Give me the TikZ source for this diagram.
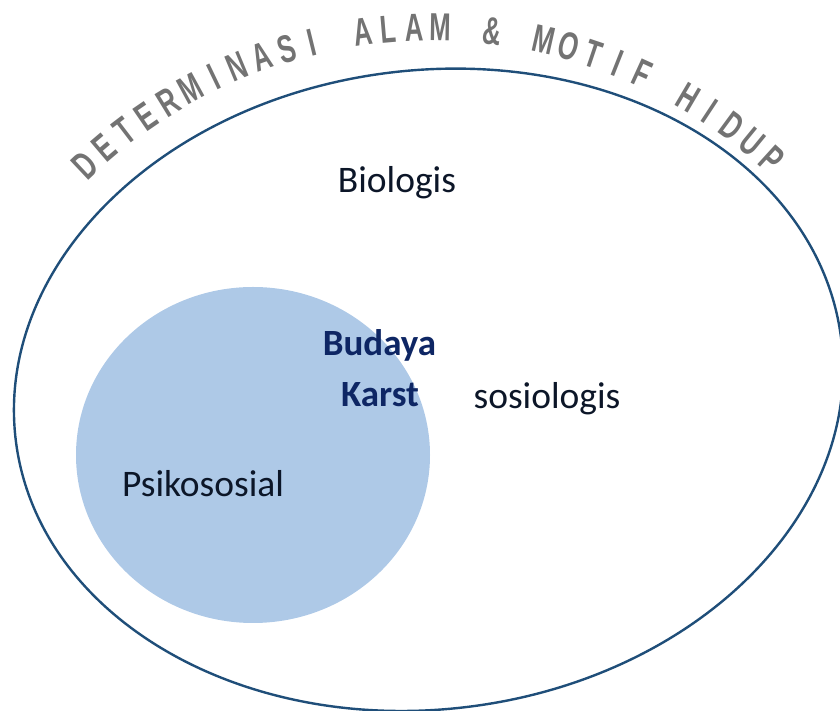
\documentclass[tikz,border=0pt]{standalone}
\usepackage{fontspec}
\setmainfont{Carlito}
\newfontfamily\arcfont[FakeStretch=0.66]{Liberation Sans}
\definecolor{ellblue}{RGB}{31,78,121}
\definecolor{discblue}{RGB}{174,201,231}
\definecolor{navyink}{RGB}{14,38,100}
\definecolor{inktext}{RGB}{12,22,40}
\definecolor{arcgrey}{RGB}{115,115,115}
\tikzset{
  lbl/.style={inner sep=0pt, anchor=base, text=inktext, font=\fontsize{37.5pt}{45pt}\selectfont},
  boldlbl/.style={lbl, text=navyink, font=\fontsize{37pt}{45pt}\selectfont\bfseries},
  arcletter/.style={inner sep=0pt, anchor=base, text=arcgrey, font=\arcfont\bfseries\fontsize{39pt}{45pt}\selectfont},
  outline/.style={draw=ellblue, line width=2.4pt},
  disc/.style={fill=discblue}
}
\begin{document}
\begin{tikzpicture}[x=1pt,y=1pt]
\useasboundingbox (0,0) rectangle (840,711);
\clip (0,0) rectangle (840,711);
% light blue disc
\fill[disc] (253,256) ellipse [x radius=177pt, y radius=168pt];
% large outline ellipse
\draw[outline, rotate around={7:(428.5,321.2)}] (428.5,321.2) ellipse [x radius=415.8pt, y radius=319.5pt];
% arc title
\coordinate (AC) at (432,178);
\foreach \ch [count=\i] in {D,E,T,E,R,M,I,N,A,S,I,{},A,L,A,M,{},\&,{},M,O,T,I,F,{},H,I,D,U,P} {
  \pgfmathsetmacro\ang{133.3-(\i-1)*2.95}
  \node[arcletter, rotate=\ang-90] (L\i) at ([shift={(\ang:492pt)}]AC) {\ch};
}
% labels
\node[lbl] (bio) at (397,518) {Biologis};
\node[boldlbl] (bud) at (379.5,355) {Budaya};
\node[boldlbl] (kar) at (380,304) {Karst};
\node[lbl] (sos) at (547,302) {sosiologis};
\node[lbl] (psi) at (203,214) {Psikososial};
\end{tikzpicture}
\end{document}
